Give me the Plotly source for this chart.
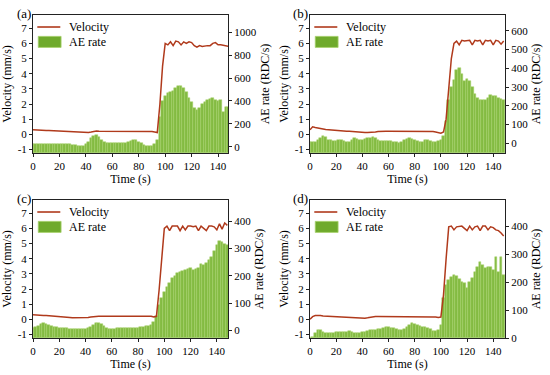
import plotly.graph_objects as go

# ---------------- data ----------------
T = [0, 2, 4, 6, 8, 10, 12, 14, 16, 18, 20, 22, 24, 26, 28, 30, 32, 34, 36, 38,
     40, 42, 44, 46, 48, 50, 52, 54, 56, 58, 60, 62, 64, 66, 68, 70, 72, 74, 76, 78,
     80, 82, 84, 86, 88, 90, 92, 94, 96, 98, 100, 102, 104, 106, 108, 110, 112, 114, 116, 118,
     120, 122, 124, 126, 128, 130, 132, 134, 136, 138, 140, 142, 144, 146, 148]

VEL_A = [0.3, 0.3, 0.3, 0.28, 0.27, 0.26, 0.25, 0.24, 0.22, 0.21, 0.2, 0.2, 0.19, 0.18, 0.17, 0.16, 0.15, 0.13, 0.12, 0.1,
         0.1, 0.12, 0.15, 0.2, 0.22, 0.2, 0.2, 0.2, 0.21, 0.2, 0.2, 0.2, 0.21, 0.2, 0.2, 0.2, 0.21, 0.2, 0.2, 0.21,
         0.2, 0.2, 0.2, 0.2, 0.19, 0.18, 0.15, 0.12, 2.0, 4.5, 6.0, 5.9, 6.1, 5.85, 6.15, 6.1, 5.9, 6.1, 6.0, 6.1,
         6.05, 5.85, 5.75, 5.85, 5.8, 5.85, 5.85, 5.85, 6.0, 6.05, 5.9, 5.9, 5.85, 5.8, 5.8]
AE_A = [25, 25, 25, 25, 26, 26, 26, 26, 26, 26, 26, 27, 27, 25, 22, 18, 12, 8, 5, 8,
        20, 45, 75, 95, 100, 85, 60, 40, 35, 35, 35, 30, 30, 35, 30, 30, 40, 50, 60, 60,
        45, 30, 15, 10, 8, 10, 25, 60, 260, 400, 440, 470, 480, 490, 510, 530, 530, 515, 480, 430,
        390, 340, 320, 340, 370, 390, 410, 420, 430, 410, 400, 410, 300, 350, 350]

VEL_B = [0.3, 0.5, 0.45, 0.4, 0.37, 0.35, 0.32, 0.3, 0.28, 0.26, 0.25, 0.24, 0.22, 0.21, 0.2, 0.2, 0.18, 0.17, 0.15, 0.14,
         0.13, 0.12, 0.12, 0.12, 0.13, 0.15, 0.18, 0.2, 0.2, 0.2, 0.2, 0.2, 0.2, 0.2, 0.2, 0.2, 0.2, 0.2, 0.2, 0.2,
         0.2, 0.2, 0.2, 0.2, 0.2, 0.2, 0.2, 0.18, 0.15, 0.12, 0.08, 0.15, 1.0, 3.0, 5.0, 6.0, 6.15, 5.9, 6.2, 6.15,
         6.2, 6.2, 5.9, 6.2, 6.15, 6.2, 5.9, 6.2, 6.15, 6.2, 5.9, 6.2, 6.15, 5.95, 6.15]
AE_B = [5, 5, 8, 15, 30, 40, 35, 20, 15, 10, 10, 15, 18, 12, 6, 5, 15, 27, 22, 15,
        18, 22, 27, 28, 32, 30, 20, 10, 10, 12, 14, 12, 9, 6, 4, 5, 15, 25, 27, 22,
        18, 10, 5, 8, 15, 18, 12, 9, 8, 12, 18, 40, 120, 230, 300, 340, 390, 400, 370, 330,
        345, 330, 300, 265, 240, 232, 230, 232, 240, 258, 255, 250, 240, 235, 230]

VEL_C = [0.3, 0.3, 0.28, 0.27, 0.26, 0.25, 0.24, 0.22, 0.21, 0.2, 0.2, 0.18, 0.16, 0.14, 0.12, 0.1, 0.1, 0.1, 0.1, 0.1,
         0.1, 0.12, 0.15, 0.18, 0.2, 0.2, 0.2, 0.2, 0.2, 0.2, 0.2, 0.2, 0.2, 0.22, 0.25, 0.22, 0.2, 0.22, 0.25, 0.22,
         0.2, 0.22, 0.25, 0.22, 0.22, 0.2, 0.15, 0.2, 1.9, 4.0, 6.0, 6.15, 5.85, 6.15, 6.15, 6.15, 5.85, 6.15, 5.9, 6.15,
         6.15, 6.1, 6.15, 5.85, 6.15, 6.0, 5.85, 6.15, 6.15, 6.1, 5.9, 6.3, 5.95, 6.35, 6.2]
AE_C = [9, 14, 18, 24, 27, 23, 20, 16, 14, 12, 11, 10, 9, 8, 7, 6, 6, 5, 5, 5,
        5, 8, 14, 20, 26, 29, 24, 16, 10, 7, 6, 7, 8, 8, 9, 9, 9, 10, 10, 11,
        11, 12, 14, 16, 18, 20, 30, 55, 95, 118, 142, 160, 175, 191, 200, 209, 214, 219, 222, 225,
        227, 220, 224, 230, 242, 240, 248, 258, 270, 290, 312, 327, 322, 315, 312]

VEL_D = [0.0, 0.18, 0.25, 0.27, 0.25, 0.22, 0.21, 0.2, 0.18, 0.16, 0.15, 0.14, 0.13, 0.12, 0.11, 0.1, 0.09, 0.08, 0.07, 0.07,
         0.07, 0.08, 0.1, 0.14, 0.17, 0.18, 0.18, 0.18, 0.18, 0.18, 0.18, 0.18, 0.17, 0.17, 0.17, 0.17, 0.18, 0.2, 0.2, 0.2,
         0.18, 0.18, 0.18, 0.18, 0.18, 0.17, 0.17, 0.16, 0.15, 0.12, 0.15, 1.6, 4.0, 6.1, 6.15, 5.9, 6.1, 6.15, 6.15, 6.0,
         5.85, 6.15, 5.9, 6.1, 6.15, 5.85, 6.15, 6.15, 5.9, 6.1, 6.05, 5.9, 5.85, 5.7, 5.5]
AE_D = [0, 5, 18, 27, 27, 21, 19, 18, 18, 19, 20, 20, 20, 21, 22, 24, 21, 18, 18, 19,
        20, 23, 26, 28, 30, 30, 32, 33, 35, 38, 38, 37, 36, 33, 30, 27, 32, 40, 48, 53,
        50, 46, 42, 40, 38, 36, 32, 26, 24, 30, 47, 142, 189, 207, 218, 225, 222, 210, 200, 195,
        178, 201, 213, 235, 255, 272, 262, 250, 252, 254, 243, 290, 237, 290, 225]

PANEL_LABELS = ["(a)", "(b)", "(c)", "(d)"]
X_TICKS = [0, 20, 40, 60, 80, 100, 120, 140]
VEL_TICKS = [-1, 0, 1, 2, 3, 4, 5, 6, 7]
VEL_TICK_TEXT = ["-1", "0", "1", "2", "3", "4", "5", "6", "7"]
AE_TICKS = [
    [0, 200, 400, 600, 800, 1000],
    [0, 100, 200, 300, 400, 500, 600],
    [0, 100, 200, 300, 400],
    [0, 100, 200, 300, 400],
]
VEL_SERIES = [VEL_A, VEL_B, VEL_C, VEL_D]
AE_SERIES = [AE_A, AE_B, AE_C, AE_D]

# ---------------- styling / layout ----------------
W, H = 550, 375
X_RANGES = [[0, 147.5], [0, 149], [0, 148.5], [0, 149]]
AE_RANGES = [[-55, 1151], [-52, 685], [-27, 477], [0, 493]]
VEL_RANGE = [-1.23, 7.87]
DOMX = [[33 / W, 228 / W], [310 / W, 505 / W], [33 / W, 228 / W], [310 / W, 505 / W]]
DOMY = [[1 - 153 / H, 1 - 15 / H], [1 - 153 / H, 1 - 15 / H],
        [1 - 338 / H, 1 - 200 / H], [1 - 338 / H, 1 - 200 / H]]
LABEL_POS = [(24, 14), (300, 14), (24, 199), (300, 199)]

RED = "#B03A1C"
GREEN = "#83BB42"
GREEN_EDGE = "#A6D06A"
LEG_GREEN = "#6FAA2C"
AXC = "#222222"
FONT = "'Liberation Serif', 'Times New Roman', 'DejaVu Serif', serif"

fig = go.Figure()
layout = dict(
    width=W, height=H, margin=dict(l=0, r=0, t=0, b=0),
    paper_bgcolor="white", plot_bgcolor="white",
    font=dict(family=FONT, size=11, color="black"),
    showlegend=False, bargap=0,
)
shapes = []
annotations = []

for i in range(4):
    xa = "x" if i == 0 else f"x{i + 1}"
    ya = "y" if i == 0 else f"y{2 * i + 1}"
    yv = f"y{2 * i + 2}"
    xkey = "xaxis" if i == 0 else f"xaxis{i + 1}"
    yakey = "yaxis" if i == 0 else f"yaxis{2 * i + 1}"
    yvkey = f"yaxis{2 * i + 2}"
    base = AE_RANGES[i][0]

    fig.add_trace(go.Bar(
        x=T, y=[v - base for v in AE_SERIES[i]], base=base, name="AE rate",
        xaxis=xa, yaxis=ya,
        marker=dict(color=GREEN, line=dict(color=GREEN_EDGE, width=0.5)),
    ))
    fig.add_trace(go.Scatter(
        x=T, y=VEL_SERIES[i], name="Velocity", mode="lines",
        xaxis=xa, yaxis=yv, line=dict(color=RED, width=1.5),
    ))

    layout[xkey] = dict(
        domain=DOMX[i], anchor=ya, range=X_RANGES[i], tickvals=X_TICKS,
        showline=True, linecolor=AXC, linewidth=1, mirror=True,
        ticks="outside", ticklen=3, tickcolor=AXC, showgrid=False, zeroline=False,
        title=dict(text="Time (s)", font=dict(size=12), standoff=2),
        automargin=False,
    )
    layout[yakey] = dict(
        domain=DOMY[i], anchor=xa, side="right", range=AE_RANGES[i], tickvals=AE_TICKS[i],
        showline=True, linecolor=AXC, linewidth=1,
        ticks="outside", ticklen=3, tickcolor=AXC, showgrid=False, zeroline=False,
        title=dict(text="AE rate (RDC/s)", font=dict(size=12), standoff=4),
        automargin=False,
    )
    layout[yvkey] = dict(
        overlaying=ya, anchor=xa, side="left", range=VEL_RANGE,
        tickvals=VEL_TICKS, ticktext=VEL_TICK_TEXT,
        showline=True, linecolor=AXC, linewidth=1,
        ticks="outside", ticklen=3, tickcolor=AXC, showgrid=False, zeroline=False,
        title=dict(text="Velocity (mm/s)", font=dict(size=12), standoff=3),
        automargin=False,
    )

    # custom legend (inside the top-left of each panel)
    xr = f"{xa} domain"
    yr = f"{ya} domain"
    shapes.append(dict(type="line", xref=xr, yref=yr, x0=0.022, x1=0.14, y0=0.913, y1=0.913,
                       line=dict(color=RED, width=1.6)))
    shapes.append(dict(type="rect", xref=xr, yref=yr, x0=0.027, x1=0.144, y0=0.765, y1=0.845,
                       fillcolor=LEG_GREEN, line=dict(color=GREEN_EDGE, width=0.8)))
    annotations.append(dict(text="Velocity", xref=xr, yref=yr, x=0.172, y=0.913,
                            xanchor="left", yanchor="middle", showarrow=False,
                            font=dict(size=12, family=FONT)))
    annotations.append(dict(text="AE rate", xref=xr, yref=yr, x=0.172, y=0.805,
                            xanchor="left", yanchor="middle", showarrow=False,
                            font=dict(size=12, family=FONT)))
    lx, ly = LABEL_POS[i]
    annotations.append(dict(text=PANEL_LABELS[i], xref="paper", yref="paper",
                            x=lx / W, y=1 - ly / H, xanchor="center", yanchor="middle",
                            showarrow=False, font=dict(size=13, family=FONT)))

layout["shapes"] = shapes
layout["annotations"] = annotations
fig.update_layout(**layout)
fig.write_html("out.html", config={"displayModeBar": False},
               post_script="document.body.style.margin='0px';")
